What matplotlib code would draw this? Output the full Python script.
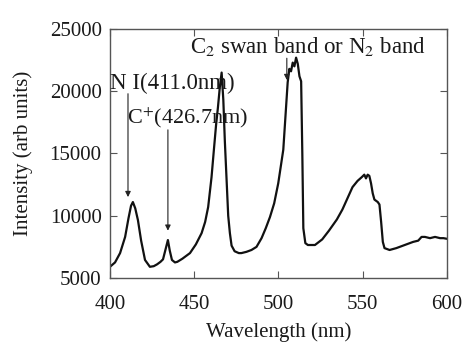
import matplotlib
matplotlib.use("Agg")
import matplotlib.pyplot as plt

plt.rcParams['font.family'] = ['Liberation Serif', 'DejaVu Serif']
plt.rcParams['mathtext.fontset'] = 'stix'

wavelength = [400, 403, 406, 409, 411, 412.5, 413.6, 415, 416.6, 418.5, 420.8, 423.7, 426, 428, 430, 431.5,
              433, 434.4, 435.5, 436.8, 438.6, 440, 443, 447.5, 451, 454.4, 456.5, 458.3, 460.3, 461.7, 463,
              464.1, 465.2, 466.3, 467.3, 468.2, 469.2, 470.2, 471.2, 472.2, 474, 476.5, 478, 481, 484, 487,
              490, 492.5, 495, 497.5, 499.9, 502.9, 504.2, 505.5, 506.5, 507.5, 508.5, 509.5, 510.5, 511.5,
              512.5, 513.5, 514.2, 514.8, 516, 517.5, 521.7, 526, 530, 534.7, 538, 541, 544, 547, 549.5,
              551, 552, 553, 554, 555, 556, 557, 559, 560, 561, 562, 563, 566, 570, 575, 580, 583, 585, 587,
              590, 593, 596, 598, 600]
intensity = [5900, 6250, 7000, 8300, 9800, 10800, 11100, 10600, 9650, 8000, 6450, 5900, 5950, 6100, 6300, 6500,
             7300, 8050, 7200, 6450, 6250, 6300, 6550, 7000, 7700, 8600, 9500, 10700, 13100, 15300, 17300,
             18700, 20300, 21500, 19300, 16000, 13000, 10000, 8600, 7600, 7150, 7000, 7000, 7100, 7250, 7500,
             8200, 9000, 9900, 11000, 12600, 15300, 18000, 20700, 21800, 21600, 22300, 22000, 22700, 22200,
             21200, 20800, 15000, 9000, 7800, 7650, 7650, 8100, 8800, 9700, 10500, 11400, 12300, 12800, 13100,
             13300, 13000, 13300, 13200, 12600, 11800, 11300, 11100, 10900, 9500, 7900, 7400, 7250, 7400, 7650,
             7900, 8000, 8300, 8300, 8200, 8300, 8200, 8200, 8150]

x_ticks = [400, 450, 500, 550, 600]
y_ticks = [5000, 10000, 15000, 20000, 25000]

labels = ["N I(411.0nm)", "C$^{+}$(426.7nm)", "C$_{2}$ swan band or N$_{2}$ band"]
label_xy = [(400.2, 20650), (410, 17900), (447.5, 23600)]
arrow_x = [410.7, 434.4, 505.0]
arrow_from = [19800, 16900, 22650]
arrow_to = [11500, 8800, 20900]

txt = '#1a1a1a'
fig = plt.figure(figsize=(4.64, 3.43), dpi=100)
ax = fig.add_axes([0.237, 0.1895, 0.726, 0.726])
ax.plot(wavelength, intensity, color='#111111', lw=1.6)
ax.set_xlim(400, 600)
ax.set_ylim(5000, 25000)
ax.set_xticks(x_ticks)
ax.set_yticks(y_ticks)
ax.tick_params(direction='in', length=5, width=0.8, top=True, right=True, labelsize=15, colors='#555555',
               labelcolor=txt)
ax.tick_params(axis='x', pad=12)
ax.tick_params(axis='y', pad=6)
for s in ax.spines.values():
    s.set_color('#555555')
    s.set_linewidth(1.0)
ax.set_xlabel('Wavelength (nm)', fontsize=15, color=txt, labelpad=6)
ax.set_ylabel('Intensity (arb units)', fontsize=15, color=txt, labelpad=12)

sizes = [16.5, 16, 16.5]
for lab, (lx, ly), fs in zip(labels, label_xy, sizes):
    ax.text(lx, ly, lab, fontsize=fs, color=txt, ha='left', va='center')
for xa, y0, y1 in zip(arrow_x, arrow_from, arrow_to):
    ax.annotate('', xy=(xa, y1), xytext=(xa, y0),
                arrowprops=dict(arrowstyle='-|>', lw=0.8, color='#222222', mutation_scale=8,
                                shrinkA=0, shrinkB=0))

fig.savefig('out.png', dpi=100)
